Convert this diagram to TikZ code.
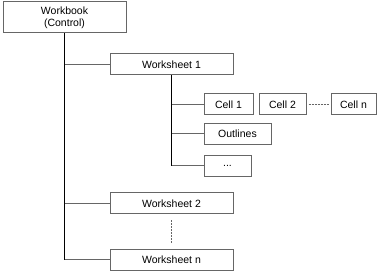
\documentclass[tikz,border=0pt]{standalone}
\usepackage{fontspec}
\setmainfont{Liberation Sans}
\usetikzlibrary{positioning}
\tikzset{
  objbox/.style={draw=gray!80!black,line width=1pt,minimum height=21pt,inner sep=0pt,
    font=\fontsize{10.5}{12}\selectfont,align=center},
  trunk/.style={black,line width=1pt},
  branch/.style={gray!80!black,line width=1pt},
  etc/.style={gray!80!black,line width=1pt,dash pattern=on 2pt off 1pt}
}
\begin{document}
\begin{tikzpicture}[x=1pt,y=-1pt]
\useasboundingbox (0,0) rectangle (383,275);
% workbook and sheets
\node[objbox,minimum width=123pt,minimum height=31pt] (wb) at (64.5,17.5) {Workbook\\(Control)};
\node[objbox,minimum width=123pt] (ws1) at (171.5,64.5) {Worksheet 1};
\node[objbox,minimum width=123pt] (ws2) at (171.5,203.5) {Worksheet 2};
\node[objbox,minimum width=123pt] (wsn) at (171.5,260) {Worksheet n};
% contents of sheet 1
\node[objbox,minimum width=49pt] (c1) at (228.5,104.5) {Cell 1};
\node[objbox,minimum width=47pt] (c2) at (282.5,104.5) {Cell 2};
\node[objbox,minimum width=45pt] (cn) at (353.5,104.5) {Cell n};
\node[objbox,minimum width=67pt] (ol) at (237.5,134) {Outlines};
\node[objbox,minimum width=47pt] (etcbox) at (227.5,166) {...};
% tree lines
\draw[trunk] (wb.south) -- (wb.south |- wsn.west);
\foreach \s in {ws1,ws2,wsn}{\draw[branch] (wb.south |- \s.west) -- (\s.west);}
\draw[trunk] (ws1.south) -- (ws1.south |- etcbox.west);
\foreach \s in {c1,ol,etcbox}{\draw[branch] (ws1.south |- \s.west) -- (\s.west);}
\draw[etc] ([xshift=2pt]c2.east) -- ([xshift=-2pt]cn.west);
\draw[etc] ([yshift=-6pt]ws2.south) -- ([yshift=6pt]wsn.north);
\end{tikzpicture}
\end{document}
